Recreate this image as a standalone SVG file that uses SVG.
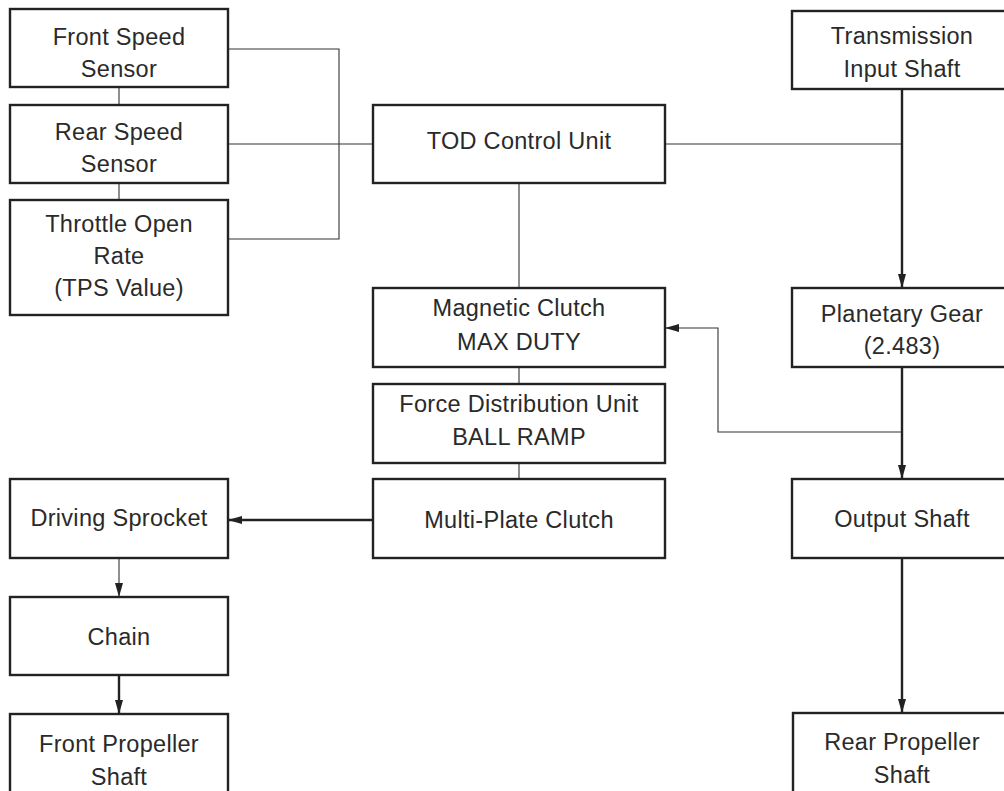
<svg xmlns="http://www.w3.org/2000/svg" width="1004" height="791" viewBox="0 0 1004 791">
<style>
.box{fill:#fff;stroke:#222;stroke-width:2.4}
.t{font-family:"Liberation Sans",Arial,sans-serif;font-size:23.5px;fill:#2a2a2a;text-anchor:middle;letter-spacing:0.3px}
.thin{fill:none;stroke:#333;stroke-width:1.1}
.thick{fill:none;stroke:#222;stroke-width:2.4}
</style>
<defs>
<marker id="ah" markerWidth="14" markerHeight="8" refX="13" refY="4" viewBox="0 0 14 8" markerUnits="userSpaceOnUse" orient="auto">
<path d="M0,0 L14,4 L0,8 Z" fill="#222"/>
</marker>
</defs>
<rect width="1004" height="791" fill="#fff"/>
<g id="connectors">
<line class="thin" x1="119" y1="87" x2="119" y2="105"/>
<line class="thin" x1="119" y1="183" x2="119" y2="200"/>
<polyline class="thin" points="228,49 339,49 339,239 228,239"/>
<line class="thin" x1="228" y1="144" x2="373" y2="144"/>
<line class="thin" x1="665" y1="144" x2="902" y2="144"/>
<line class="thin" x1="519" y1="183" x2="519" y2="288"/>
<line class="thin" x1="519" y1="367" x2="519" y2="384"/>
<line class="thin" x1="519" y1="463" x2="519" y2="479"/>
<line class="thick" x1="902" y1="89" x2="902" y2="287" marker-end="url(#ah)"/>
<line class="thick" x1="902" y1="367" x2="902" y2="478" marker-end="url(#ah)"/>
<line class="thick" x1="902" y1="558" x2="902" y2="712" marker-end="url(#ah)"/>
<polyline class="thin" points="902,432 718,432 718,328 666,328" marker-end="url(#ah)"/>
<line class="thick" x1="373" y1="520" x2="229" y2="520" marker-end="url(#ah)"/>
<line class="thin" x1="119" y1="558" x2="119" y2="596" marker-end="url(#ah)"/>
<line class="thick" x1="119" y1="675" x2="119" y2="713" marker-end="url(#ah)"/>
</g>
<g id="front-speed-sensor"><rect class="box" x="10" y="9" width="218" height="78"/><text class="t" x="119" y="45">Front Speed</text><text class="t" x="119" y="77">Sensor</text></g>
<g id="rear-speed-sensor"><rect class="box" x="10" y="105" width="218" height="78"/><text class="t" x="119" y="140">Rear Speed</text><text class="t" x="119" y="172">Sensor</text></g>
<g id="throttle"><rect class="box" x="10" y="200" width="218" height="115"/><text class="t" x="119" y="232">Throttle Open</text><text class="t" x="119" y="264">Rate</text><text class="t" x="119" y="296">(TPS Value)</text></g>
<g id="tod"><rect class="box" x="373" y="105" width="292" height="78"/><text class="t" x="519" y="149">TOD Control Unit</text></g>
<g id="transmission"><rect class="box" x="792" y="11" width="220" height="78"/><text class="t" x="902" y="44">Transmission</text><text class="t" x="902" y="77">Input Shaft</text></g>
<g id="magnetic-clutch"><rect class="box" x="373" y="288" width="292" height="79"/><text class="t" x="519" y="316">Magnetic Clutch</text><text class="t" x="519" y="350">MAX DUTY</text></g>
<g id="planetary"><rect class="box" x="792" y="288" width="220" height="79"/><text class="t" x="902" y="322">Planetary Gear</text><text class="t" x="902" y="354">(2.483)</text></g>
<g id="force-distribution"><rect class="box" x="373" y="384" width="292" height="79"/><text class="t" x="519" y="412">Force Distribution Unit</text><text class="t" x="519" y="445">BALL RAMP</text></g>
<g id="multi-plate"><rect class="box" x="373" y="479" width="292" height="79"/><text class="t" x="519" y="528">Multi-Plate Clutch</text></g>
<g id="output-shaft"><rect class="box" x="792" y="479" width="220" height="79"/><text class="t" x="902" y="527">Output Shaft</text></g>
<g id="driving-sprocket"><rect class="box" x="10" y="479" width="218" height="79"/><text class="t" x="119" y="526">Driving Sprocket</text></g>
<g id="chain"><rect class="box" x="10" y="597" width="218" height="78"/><text class="t" x="119" y="645">Chain</text></g>
<g id="front-propeller"><rect class="box" x="10" y="714" width="218" height="90"/><text class="t" x="119" y="752">Front Propeller</text><text class="t" x="119" y="785">Shaft</text></g>
<g id="rear-propeller"><rect class="box" x="793" y="713" width="220" height="90"/><text class="t" x="902" y="750">Rear Propeller</text><text class="t" x="902" y="783">Shaft</text></g>
</svg>
